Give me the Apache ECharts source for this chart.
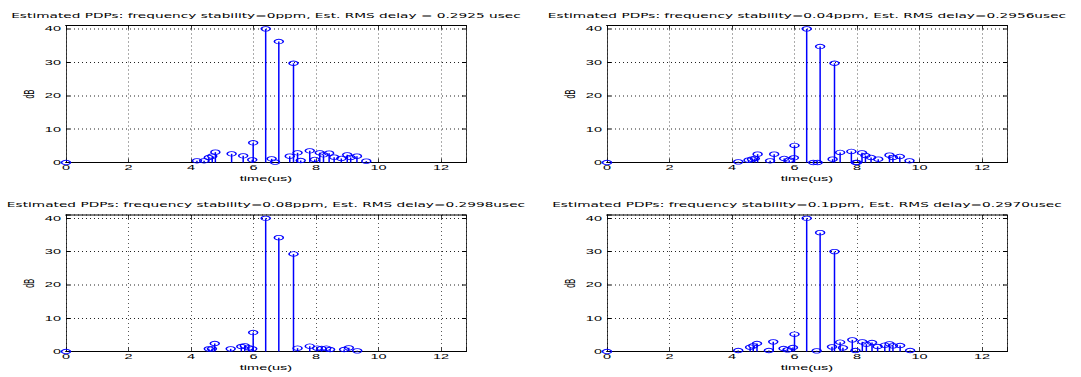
<!DOCTYPE html>
<html><head><meta charset="utf-8">
<script src="https://cdn.jsdelivr.net/npm/echarts@6/dist/echarts.min.js"></script>
<style>
html,body{margin:0;padding:0;background:#fff;overflow:hidden;}
#wrap{width:1081px;height:377px;overflow:hidden;position:relative;}
#c{width:1081px;height:754px;transform:scaleY(0.5);transform-origin:0 0;position:absolute;left:0;top:0;}
</style></head><body>
<div id="wrap"><div id="c"></div></div>
<script>
// ---- data ----
const titles = [
  'Estimated PDPs: frequency stability=0ppm, Est. RMS delay = 0.2925 usec',
  'Estimated PDPs: frequency stability=0.04ppm, Est. RMS delay=0.2956usec',
  'Estimated PDPs: frequency stability=0.08ppm, Est. RMS delay=0.2998usec',
  'Estimated PDPs: frequency stability=0.1ppm, Est. RMS delay=0.2970usec'
];
const xName = 'time(us)';
const yName = 'dB';
const xTicks = [0, 2, 4, 6, 8, 10, 12];
const yTicks = [0, 10, 20, 30, 40];

// [time (us), dB]
const pdp0 = [[0,0],[4.19,0.5],[4.42,0.5],[4.57,1.5],[4.68,1.9],[4.78,3.1],[5.3,2.6],[5.67,2.0],[5.96,0.8],[5.99,5.9],[6.39,40],[6.58,1.1],[6.69,0.1],[6.81,36.2],[7.16,1.9],[7.28,29.7],[7.41,2.9],[7.51,0.6],[7.8,3.5],[7.96,0.9],[8.12,2.9],[8.24,2.3],[8.42,2.8],[8.58,1.6],[8.81,1.2],[9.0,2.3],[9.11,1.5],[9.31,1.9],[9.61,0.4]];
const pdp1 = [[0,0],[4.2,0.2],[4.53,0.7],[4.64,1.0],[4.73,1.2],[4.82,2.5],[5.22,0.5],[5.35,2.5],[5.67,1.2],[5.83,0.7],[5.98,1.4],[6.0,5.1],[6.39,40],[6.6,0],[6.74,0],[6.82,34.7],[7.22,1.0],[7.28,29.7],[7.46,3.0],[7.82,3.3],[7.96,0],[8.0,0],[8.16,2.9],[8.27,2.1],[8.45,1.5],[8.68,1.0],[9.04,2.2],[9.15,1.5],[9.37,1.8],[9.68,0.5]];
const pdp2 = [[0,0],[4.57,0.8],[4.67,0.8],[4.76,2.4],[5.27,0.8],[5.61,1.5],[5.72,1.7],[5.85,1.1],[5.96,0.8],[5.99,5.7],[6.39,40],[6.81,34.2],[7.28,29.3],[7.41,1.0],[7.8,1.6],[8.04,1.0],[8.18,0.9],[8.33,1.0],[8.45,0.6],[8.9,0.6],[9.05,1.1],[9.32,0.2]];
const pdp3 = [[0,0],[4.2,0.3],[4.58,1.3],[4.68,1.7],[4.8,2.4],[5.18,0.3],[5.32,2.9],[5.65,0.9],[5.78,0.5],[5.95,1.2],[6.0,5.2],[6.39,40],[6.71,0.2],[6.82,35.7],[7.2,1.4],[7.28,30.0],[7.46,2.8],[7.55,1.1],[7.85,3.5],[7.95,0.3],[8.17,2.9],[8.3,2.2],[8.48,2.7],[8.66,1.5],[8.89,1.9],[9.04,2.3],[9.15,1.7],[9.38,1.8],[9.7,0.3]];
const pdps = [pdp0, pdp1, pdp2, pdp3];

// ---- layout (drawn at 2x height, squashed vertically by CSS) ----
const grids = [
  {left: 66, top: 51, width: 400, height: 274},
  {left: 607, top: 51, width: 400, height: 274},
  {left: 66, top: 430, width: 400, height: 273},
  {left: 607, top: 430, width: 400, height: 273}
];
const FONT = 'Liberation Sans';
const TFONT = 'DejaVu Sans';
const BLUE = '#0000ff';

const chart = echarts.init(document.getElementById('c'), null, {renderer: 'svg'});
const xAxes = [], yAxes = [], series = [], title = [];
grids.forEach((g, i) => {
  title.push({
    text: titles[i], left: g.left + g.width / 2, top: g.top - 27, textAlign: 'center', padding: 0,
    textStyle: {fontFamily: TFONT, fontSize: 13.7, fontWeight: 'normal', color: '#000'}
  });
  xAxes.push({
    type: 'value', gridIndex: i, min: 0, max: 12.8, interval: 2, position: 'bottom',
    name: xName, nameLocation: 'middle', nameGap: 24,
    nameTextStyle: {fontFamily: FONT, fontSize: 14.5, color: '#000'},
    axisLine: {show: true, onZero: false, lineStyle: {color: '#000', width: 2}},
    axisTick: {show: true, inside: true, length: 8, lineStyle: {color: '#000', width: 1}},
    axisLabel: {margin: 3, fontFamily: FONT, fontSize: 14.5, color: '#000',
      formatter: v => xTicks.includes(v) ? String(v) : ''},
    splitLine: {show: true, lineStyle: {color: '#222', width: 1, type: [2, 6]}}
  });
  xAxes.push({
    type: 'value', gridIndex: i, min: 0, max: 12.8, interval: 2, position: 'top',
    axisLine: {show: true, onZero: false, lineStyle: {color: '#000', width: 2}},
    axisTick: {show: true, inside: true, length: 8, lineStyle: {color: '#000', width: 1}},
    axisLabel: {show: false}, splitLine: {show: false}
  });
  yAxes.push({
    type: 'value', gridIndex: i, min: 0, max: 41, interval: 10, position: 'left',
    name: yName, nameLocation: 'middle', nameGap: 30, nameRotate: 90,
    nameTextStyle: {fontFamily: FONT, fontSize: 14.5, color: '#000'},
    axisLine: {show: true, onZero: false, lineStyle: {color: '#000', width: 1}},
    axisTick: {show: true, inside: true, length: 4, lineStyle: {color: '#000', width: 2}},
    axisLabel: {margin: 5, fontFamily: FONT, fontSize: 14.5, color: '#000',
      formatter: v => yTicks.includes(v) ? String(v) : ''},
    splitLine: {show: true, lineStyle: {color: '#222', width: 2, type: [1, 3]}}
  });
  yAxes.push({
    type: 'value', gridIndex: i, min: 0, max: 41, interval: 10, position: 'right',
    axisLine: {show: true, onZero: false, lineStyle: {color: '#000', width: 1}},
    axisTick: {show: true, inside: true, length: 4, lineStyle: {color: '#000', width: 2}},
    axisLabel: {show: false}, splitLine: {show: false}
  });
  series.push({
    type: 'custom', xAxisIndex: 2 * i, yAxisIndex: 2 * i, clip: false,
    data: pdps[i],
    renderItem: (params, api) => {
      const x = api.value(0), y = api.value(1);
      const p0 = api.coord([x, 0]);
      const p1 = api.coord([x, y]);
      return {
        type: 'group',
        children: [
          {type: 'line', shape: {x1: p0[0], y1: p0[1], x2: p1[0], y2: p1[1]},
            style: {stroke: BLUE, lineWidth: 1.5}},
          {type: 'circle', shape: {cx: p1[0], cy: p1[1], r: 4.5},
            style: {fill: 'none', stroke: BLUE, lineWidth: 1.6}}
        ]
      };
    }
  });
});

chart.setOption({
  backgroundColor: '#fff',
  animation: false,
  title: title,
  grid: grids,
  xAxis: xAxes,
  yAxis: yAxes,
  series: series
});
</script>
</body></html>
